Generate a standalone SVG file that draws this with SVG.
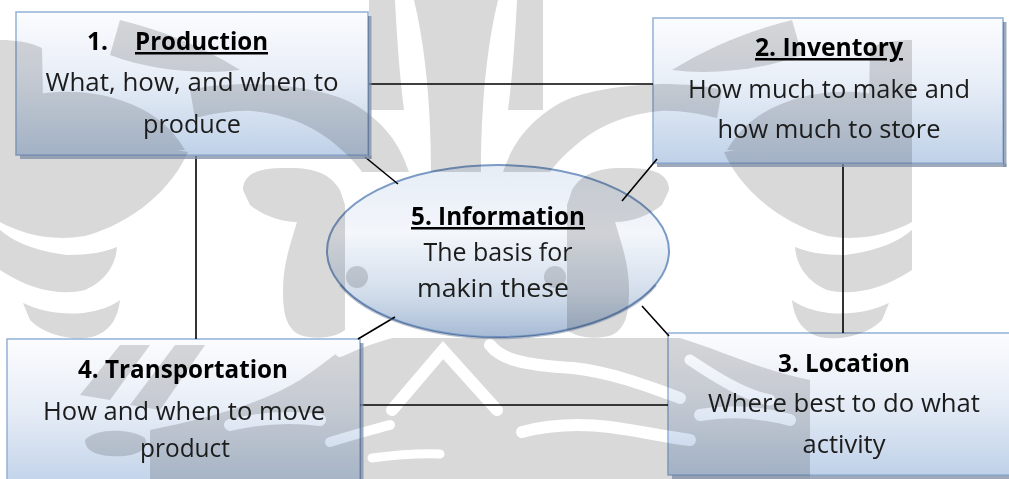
<svg xmlns="http://www.w3.org/2000/svg" xmlns:xlink="http://www.w3.org/1999/xlink" width="1009" height="479" viewBox="0 0 1009 479">
  <style>
    .wm { fill: #d9d9d9; }
    .wm-gap { fill: none; stroke: #ffffff; stroke-linecap: round; }
    .box { fill: url(#boxFill); stroke: #93b1d8; stroke-width: 1.5; mix-blend-mode: multiply; }
    .shadow { fill: #7d8ea6; opacity: 0.75; }
    .oval { fill: url(#ovalFill); stroke: #7b9bc6; stroke-width: 2; mix-blend-mode: multiply; }
    .oval-rim { fill: none; stroke: #6f83a0; stroke-width: 2.5; opacity: 0.5; }
    .link { stroke: #000000; stroke-width: 1.6; fill: none; }
    .title { font-family: "Open Sans", "Liberation Sans", sans-serif; font-weight: bold; font-size: 25px; fill: #000000; text-anchor: middle; }
    .title-left { font-family: "Open Sans", "Liberation Sans", sans-serif; font-weight: bold; font-size: 25px; fill: #000000; }
    .u { text-decoration: underline; }
    .body { font-family: "Open Sans", "Liberation Sans", sans-serif; font-size: 25.5px; fill: #1c1c1c; text-anchor: middle; }
  </style>
  <defs>
    <linearGradient id="boxFill" x1="0" y1="0" x2="0" y2="1">
      <stop offset="0" stop-color="#fbfcfe"/>
      <stop offset="0.45" stop-color="#e8eef7"/>
      <stop offset="1" stop-color="#bfd1e8"/>
    </linearGradient>
    <linearGradient id="ovalFill" x1="0" y1="0" x2="0" y2="1">
      <stop offset="0" stop-color="#e6edf6"/>
      <stop offset="0.4" stop-color="#f3f6fb"/>
      <stop offset="0.75" stop-color="#d2ddeb"/>
      <stop offset="1" stop-color="#a7bbd5"/>
    </linearGradient>
    <!-- one half of the background emblem; mirrored about x = 456 -->
    <g id="wm-half">
      <path class="wm" d="M0,40 C14,40 30,42 42,48 L44,150 L0,150 Z"/>
      <path class="wm" d="M0,140 C60,138 130,140 188,152 C172,188 135,222 85,236 C50,242 20,233 0,222 Z"/>
      <path class="wm" d="M0,230 C12,240 30,250 67,255 C90,255 105,252 117,247 C116,262 108,280 85,290 C60,296 30,290 0,270 Z"/>
      <path class="wm" d="M23,303 C40,311 60,315 83,313 C100,311 112,306 120,300 C118,318 110,332 92,337 C70,341 45,335 30,320 Z"/>
      <path class="wm" d="M243,190 C243,172 262,168 285,168 C310,167 330,172 340,190 L345,205 L345,330 C335,338 315,340 300,335 C285,328 283,310 283,290 C283,265 290,245 297,222 C280,222 262,215 250,205 Z"/>
      <path class="wm" d="M369,0 L395,0 C397,40 400,80 404,110 L369,110 Z"/>
      <path class="wm" d="M414,0 L456,0 L456,172 L431,172 C431,110 426,50 414,0 Z"/>
      <path class="wm" d="M409,172 C400,145 385,122 352,103 C330,92 300,86 252,84 C225,84 205,86 190,90 L195,118 C215,113 235,110 252,111 C285,114 310,125 330,140 C345,152 355,162 362,172 Z"/>
      <path class="wm" d="M16,100 C50,88 90,90 120,100 C150,110 170,125 185,150 L16,150 Z"/>
      <path class="wm" d="M120,20 C160,30 200,45 240,70 C200,75 150,70 110,55 Z"/>
      <circle class="wm" cx="357" cy="277" r="11"/>
    </g>
  </defs>

  <rect width="1009" height="479" fill="#ffffff"/>

  <!-- background emblem -->
  <g id="watermark">
    <use xlink:href="#wm-half"/>
    <use xlink:href="#wm-half" transform="translate(912,0) scale(-1,1)"/>
    <path class="wm" d="M150,479 L150,430 C200,420 260,405 300,380 C330,360 345,345 360,338 L680,338 C720,350 760,370 810,380 L810,479 Z"/>
    <path class="wm" d="M80,395 L120,345 L150,345 L110,400 Z"/>
    <path class="wm" d="M130,405 L175,345 L205,345 L160,410 Z"/>
    <path class="wm" d="M85,440 C95,428 130,428 145,438 C150,450 135,458 110,456 C95,455 85,450 85,440 Z"/>
    <path class="wm-gap" stroke-width="12" d="M392,410 L443,350 L497,410"/>
    <path class="wm-gap" stroke-width="10" d="M340,352 C355,345 375,337 400,331"/>
    <path class="wm-gap" stroke-width="12" d="M490,345 C500,358 520,365 573,368 C610,372 645,385 680,398"/>
    <path class="wm-gap" stroke-width="10" d="M330,442 C350,436 370,430 390,425"/>
    <path class="wm-gap" stroke-width="12" d="M522,432 C545,426 575,423 610,427 C640,431 660,436 690,440"/>
    <path class="wm-gap" stroke-width="9" d="M372,458 C395,455 415,453 440,454"/>
    <path class="wm-gap" stroke-width="11" d="M690,360 C720,380 745,395 770,400"/>
    <path class="wm-gap" stroke-width="12" d="M700,415 C730,410 760,412 790,420"/>
    <path class="wm-gap" stroke-width="12" d="M230,425 C260,418 290,416 320,420"/>
  </g>

  <!-- connectors -->
  <g id="connectors">
    <line class="link" x1="369" y1="84" x2="653" y2="84"/>
    <line class="link" x1="196" y1="156" x2="196" y2="339"/>
    <line class="link" x1="843" y1="164" x2="843" y2="333"/>
    <line class="link" x1="360" y1="405" x2="668" y2="405"/>
    <line class="link" x1="365" y1="157" x2="398" y2="184"/>
    <line class="link" x1="657" y1="159" x2="622" y2="201"/>
    <line class="link" x1="395" y1="317" x2="358" y2="339"/>
    <line class="link" x1="642" y1="306" x2="669" y2="336"/>
  </g>

  <!-- 1. Production -->
  <g id="node-production">
    <path class="shadow" d="M368,16 H371.5 V159 H368 Z"/>
    <path class="shadow" d="M20,155.5 H371.5 V159 H20 Z"/>
    <rect class="box" x="16" y="12" width="352" height="143"/>
    <text class="title-left" x="87" y="50" textLength="21" lengthAdjust="spacingAndGlyphs">1.</text>
    <text class="title-left u" x="135" y="50" textLength="133" lengthAdjust="spacingAndGlyphs">Production</text>
    <text class="body" x="192" y="91" textLength="293" lengthAdjust="spacingAndGlyphs">What, how, and when to</text>
    <text class="body" x="192" y="133" textLength="98" lengthAdjust="spacingAndGlyphs">produce</text>
  </g>

  <!-- 2. Inventory -->
  <g id="node-inventory">
    <path class="shadow" d="M1003,22 H1006.5 V167 H1003 Z"/>
    <path class="shadow" d="M657,163.5 H1006.5 V167 H657 Z"/>
    <rect class="box" x="653" y="18" width="350" height="145"/>
    <text class="title u" x="829" y="56" textLength="148" lengthAdjust="spacingAndGlyphs">2. Inventory</text>
    <text class="body" x="829" y="98" textLength="282" lengthAdjust="spacingAndGlyphs">How much to make and</text>
    <text class="body" x="829" y="138" textLength="223" lengthAdjust="spacingAndGlyphs">how much to store</text>
  </g>

  <!-- 5. Information -->
  <g id="node-information">
    <path class="oval-rim" d="M340,285 A171,86 0 0 0 656,285"/>
    <ellipse class="oval" cx="498" cy="251" rx="171" ry="86"/>
    <text class="title u" x="498" y="225" textLength="174" lengthAdjust="spacingAndGlyphs">5. Information</text>
    <text class="body" x="498" y="261" textLength="149" lengthAdjust="spacingAndGlyphs">The basis for</text>
    <text class="body" x="493" y="297" textLength="152" lengthAdjust="spacingAndGlyphs">makin these</text>
  </g>

  <!-- 4. Transportation -->
  <g id="node-transportation">
    <path class="shadow" d="M360,343 H363.5 V479 H360 Z"/>
    <rect class="box" x="7" y="339" width="353" height="150"/>
    <text class="title" x="183" y="378" textLength="210" lengthAdjust="spacingAndGlyphs">4. Transportation</text>
    <text class="body" x="184" y="420" textLength="282" lengthAdjust="spacingAndGlyphs">How and when to move</text>
    <text class="body" x="185" y="457" textLength="90" lengthAdjust="spacingAndGlyphs">product</text>
  </g>

  <!-- 3. Location -->
  <g id="node-location">
    <path class="shadow" d="M672,475.5 H1009 V479 H672 Z"/>
    <rect class="box" x="668" y="333" width="352" height="142"/>
    <text class="title" x="844" y="372" textLength="132" lengthAdjust="spacingAndGlyphs">3. Location</text>
    <text class="body" x="844" y="412" textLength="272" lengthAdjust="spacingAndGlyphs">Where best to do what</text>
    <text class="body" x="844" y="453" textLength="83" lengthAdjust="spacingAndGlyphs">activity</text>
  </g>
</svg>
